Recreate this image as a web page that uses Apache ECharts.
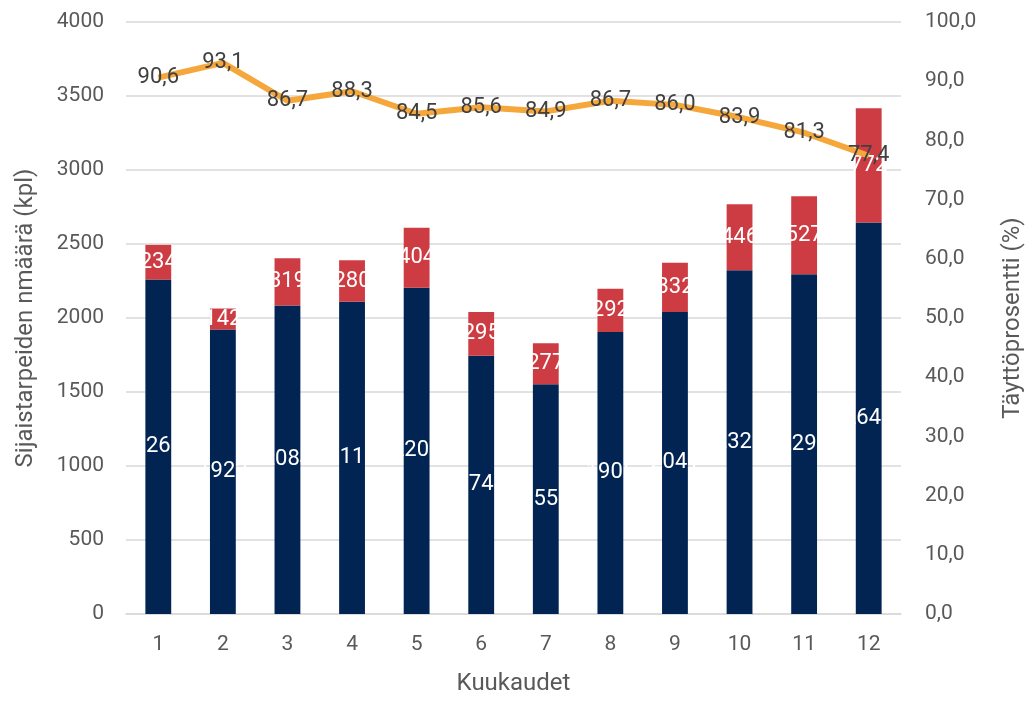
<!DOCTYPE html>
<html><head><meta charset="utf-8">
<script src="https://cdn.jsdelivr.net/npm/echarts@6/dist/echarts.min.js"></script>
<style>html,body{margin:0;padding:0;background:#fff;overflow:hidden}#c{width:1033px;height:701px}</style>
</head><body><div id="c"></div>
<script>
const categories = ['1','2','3','4','5','6','7','8','9','10','11','12'];
const filled = [2260, 1922, 2084, 2110, 2205, 1745, 1552, 1906, 2041, 2323, 2295, 2645];
const unfilled = [234, 142, 319, 280, 404, 295, 277, 292, 332, 446, 527, 772];
const fillRate = [90.6, 93.1, 86.7, 88.3, 84.5, 85.6, 84.9, 86.7, 86.0, 83.9, 81.3, 77.4];

const F = 'Roboto, "Noto Sans", sans-serif';
const chart = echarts.init(document.getElementById('c'), null, {renderer:'canvas'});
const fmt1 = v => Number(v).toFixed(1).replace('.', ',');
chart.setOption({
  animation:false,
  textStyle:{fontFamily:F},
  grid:{left:126, right:122, top:22, bottom:81, containLabel:false},
  xAxis:{type:'category', data:categories,
    axisLine:{show:true, lineStyle:{color:'#d9d9d9', width:1.5}},
    axisTick:{show:false},
    axisLabel:{color:'#595959', fontSize:21, fontFamily:F, margin:20},
    name:'Kuukaudet', nameLocation:'middle', nameGap:58,
    nameTextStyle:{color:'#595959', fontSize:24, fontFamily:F}
  },
  yAxis:[
    {type:'value', min:0, max:4000, interval:500,
     axisLine:{show:false}, axisTick:{show:false},
     splitLine:{lineStyle:{color:'#d9d9d9', width:1.5}},
     axisLabel:{color:'#595959', fontSize:21, fontFamily:F, margin:22, formatter:v=>String(v)},
     name:'Sijaistarpeiden nmäärä (kpl)', nameLocation:'middle', nameGap:88, nameRotate:90,
     nameTextStyle:{color:'#595959', fontSize:24, fontFamily:F}
    },
    {type:'value', min:0, max:100, interval:10,
     axisLine:{show:false}, axisTick:{show:false}, splitLine:{show:false},
     axisLabel:{color:'#595959', fontSize:21, fontFamily:F, margin:24, formatter:fmt1},
     name:'Täyttöprosentti (%)', nameLocation:'middle', nameGap:100, nameRotate:90,
     nameTextStyle:{color:'#595959', fontSize:24, fontFamily:F}
    }
  ],
  series:[
    {type:'bar', stack:'s', data:filled, barWidth:'40%',
     itemStyle:{color:'#022452'},
     label:{show:true, position:'inside', color:'#fff', fontSize:22, fontFamily:F}
    },
    {type:'bar', stack:'s', data:unfilled, barWidth:'40%',
     itemStyle:{color:'#CC3C42'},
     label:{show:true, position:'inside', color:'#fff', fontSize:22, fontFamily:F}
    },
    {type:'line', yAxisIndex:1, data:fillRate, symbol:'circle', symbolSize:1, showSymbol:true,
     itemStyle:{color:'#F5A73B'},
     lineStyle:{color:'#F5A73B', width:6},
     label:{show:true, position:'inside', color:'#404040', fontSize:22, fontFamily:F, formatter:p=>fmt1(p.value)},
     labelLayout:{hideOverlap:false},
     z:5
    }
  ]
});
</script></body></html>
